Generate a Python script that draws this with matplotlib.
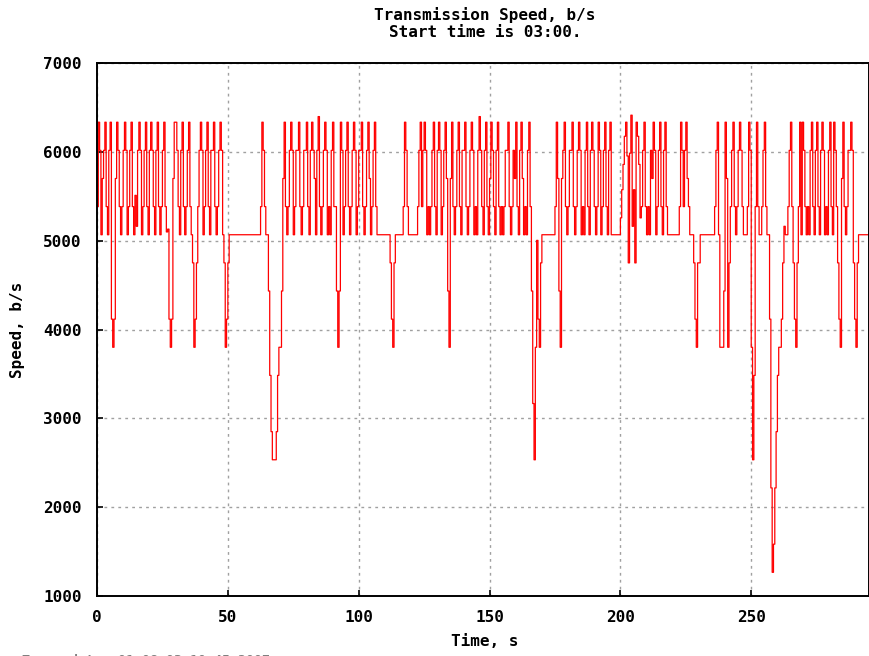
import matplotlib

matplotlib.use("Agg")
import matplotlib.pyplot as plt
import numpy as np

# speed expressed in quantisation levels; one level = 316.67 b/s
LEVEL_BPS = 316.67
SAMPLE_S = 0.5

levels = [
    # 0 - 10 s
    17, 20, 19, 16, 18, 19, 20, 17, 16, 19, 20, 13, 12, 13, 18, 20, 19, 17, 16, 17,
    # 10 - 20 s
    19, 20, 19, 16, 17, 19, 20, 17, 16, 17.4, 16.3, 19, 20, 19, 16, 17, 19, 20, 17, 16,
    # 20 - 30 s
    19, 20, 19, 17, 16, 19, 20, 17, 16, 17, 19, 20, 17, 16.1, 16.2, 13, 12, 13, 18, 20,
    # 30 - 40 s
    20, 19, 17, 16, 19, 20, 17, 16, 17, 19, 20, 17, 16, 15, 12, 13, 15, 17, 19, 20,
    # 40 - 50 s
    19, 16, 17, 19, 20, 17, 16, 19, 19, 20, 17, 16, 17, 19, 20, 19, 16, 15, 12, 13,
    # 50 - 60 s
    15, 16, 16, 16, 16, 16, 16, 16, 16, 16, 16, 16, 16, 16, 16, 16, 16, 16, 16, 16,
    # 60 - 70 s
    16, 16, 16, 16, 16, 17, 20, 19, 17, 16, 16, 14, 11, 9, 8, 8, 8, 9, 11, 12,
    # 70 - 80 s
    12, 14, 18, 20, 17, 16, 17, 19, 20, 19, 16, 17, 19, 19, 20, 17, 16, 17, 19, 19,
    # 80 - 90 s
    20, 17, 16, 19, 20, 19, 18, 16, 19, 20.2, 17, 16, 17, 19, 20, 19, 16, 17, 16, 19,
    # 90 - 100 s
    20, 17, 17, 14, 12, 14, 20, 19, 16, 17, 19, 20, 17, 16, 17, 19, 20, 19, 16, 17,
    # 100 - 110 s
    19, 19, 20, 17, 16, 17, 19, 20, 18, 16, 17, 19, 20, 17, 16, 16, 16, 16, 16, 16,
    # 110 - 120 s
    16, 16, 16, 16, 15, 13, 12, 15, 16, 16, 16, 16, 16, 16, 17, 20, 19, 17, 16, 16,
    # 120 - 130 s
    16, 16, 16, 16, 16, 17, 19, 20, 17, 19, 20, 19, 16, 17, 16, 17, 19, 20, 17, 16,
    # 130 - 140 s
    19, 20, 19, 16, 17, 19, 20, 18, 14, 12, 18, 20, 17, 16, 17, 19, 20, 17, 16, 19,
    # 140 - 150 s
    19, 20, 17, 16, 17, 19, 20, 19, 16, 17, 16, 19, 20.2, 19, 17, 16, 19, 20, 17, 16,
    # 150 - 160 s
    18, 20, 19, 17, 16, 19, 20, 17, 16, 17, 16, 17, 19, 19, 20, 17, 16, 17, 19, 18,
    # 160 - 170 s
    20, 17, 16, 19, 20, 18, 16, 17, 16, 19, 20, 17, 14, 10, 8, 12, 15.8, 13, 12, 15,
    # 170 - 180 s
    16, 16, 16, 16, 16, 16, 16, 16, 16, 16, 17, 20, 18, 14, 12, 18, 19, 20, 17, 16,
    # 180 - 190 s
    17, 19, 19, 20, 17, 16, 17, 19, 20, 19, 16, 17, 16, 19, 20, 17, 16, 19, 20, 19,
    # 190 - 200 s
    17, 16, 17, 20, 19, 16, 17, 19, 20, 17, 16, 19, 20, 16, 16, 16, 16, 16, 16, 16,
    # 200 - 210 s
    16.6, 17.6, 18.5, 19.5, 20, 18.8, 15, 18.9, 20.25, 16.3, 17.6, 15, 20, 19.5, 18.5, 16.6, 17, 19, 20, 17,
    # 210 - 220 s
    16, 17, 16, 19, 18, 20, 19, 16, 17, 19, 20, 17, 16, 19, 20, 17, 16, 16, 16, 16,
    # 220 - 230 s
    16, 16, 16, 16, 16, 17, 20, 19, 17, 19, 20, 18, 17, 16, 16, 16, 15, 13, 12, 15,
    # 230 - 240 s
    15, 16, 16, 16, 16, 16, 16, 16, 16, 16, 16, 16, 17, 19, 20, 16, 12, 12, 12, 14,
    # 240 - 250 s
    20, 18, 12, 15, 17, 19, 20, 17, 16, 17, 19, 20, 19, 17, 16, 16, 16, 17, 20, 19,
    # 250 - 260 s
    12, 8, 11, 17, 20, 17, 16, 16, 17, 19, 20, 17, 16, 16, 13, 7, 4, 5, 7, 9,
    # 260 - 270 s
    11, 12, 12, 13, 15, 16.3, 16, 16, 17, 19, 20, 17, 15, 13, 12, 15, 17, 20, 16, 20,
    # 270 - 280 s
    19, 17, 16, 17, 16, 19, 20, 17, 16, 19, 20, 17, 16, 19, 20, 19, 16, 17, 16, 19,
    # 280 - 290 s
    20, 17, 16, 20, 19, 17, 15, 13, 12, 18, 20, 17, 16, 17, 19, 19, 20, 19, 15, 13,
    # 290 - 295 s
    12, 15, 16, 16, 16, 16, 16, 16, 16, 16, 16,
]

title = "Transmission Speed, b/s\nStart time is 03:00."
x_label = "Time, s"
y_label = "Speed, b/s"
x_ticks = [0, 50, 100, 150, 200, 250]
y_ticks = [1000, 2000, 3000, 4000, 5000, 6000, 7000]
footer = "Trace date: 01.08.03 10:45 2007"

speed = np.array(levels) * LEVEL_BPS
time_s = np.arange(len(speed)) * SAMPLE_S

plt.rcParams["font.family"] = ["DejaVu Sans Mono"]
plt.rcParams["font.weight"] = "bold"

fig = plt.figure(figsize=(8.7, 6.56), dpi=100)
ax = fig.add_axes([97 / 870, 1 - 596 / 656, 772 / 870, 533 / 656])

ax.plot(time_s, speed, color="#ff0000", linewidth=0.9, drawstyle="steps-post")

ax.set_xlim(0, 295)
ax.set_ylim(1000, 7000)
ax.set_xticks(x_ticks)
ax.set_yticks(y_ticks)
ax.tick_params(direction="in", length=4, width=1.2, labelsize=11.5)
ax.tick_params(axis="x", pad=10)
ax.tick_params(axis="y", pad=11)
ax.grid(color="#a0a0a0", linestyle=(0, (2, 3)), linewidth=1.0)
for spine in ax.spines.values():
    spine.set_linewidth(1.4)

fig.text(485 / 870, 1 - 642 / 656, x_label, ha="center", va="center",
         fontsize=11.5, fontweight="bold")
fig.text(18 / 870, 1 - 330 / 656, y_label, ha="center", va="center",
         rotation=90, fontsize=11.5, fontweight="bold")
fig.text(485 / 870, 1 - 7 / 656, title, ha="center", va="top", fontsize=11.5,
         fontweight="bold", linespacing=1.15)
fig.text(22 / 870, 1 - 661 / 656, footer, ha="left", va="center", fontsize=9.5,
         color="#808080")

fig.savefig("out.png", dpi=100, facecolor="white")
